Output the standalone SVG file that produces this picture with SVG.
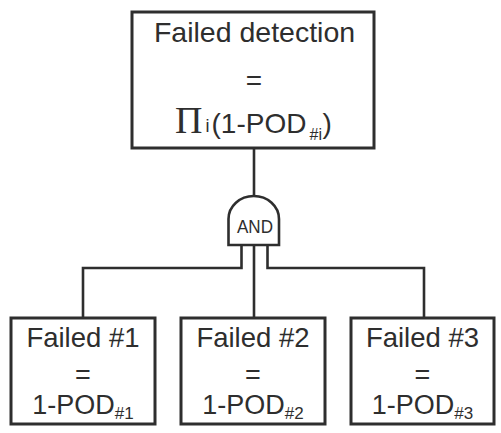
<svg xmlns="http://www.w3.org/2000/svg" width="501" height="433" viewBox="0 0 501 433">
<style>
.box{fill:#fff;stroke:#2e2e2e;stroke-width:3}
.ln{fill:none;stroke:#2e2e2e;stroke-width:2.6}
.t{font-family:"Liberation Sans",Arial,sans-serif;fill:#2e2e2e;text-anchor:middle}
.f{font-family:"Liberation Sans",Arial,sans-serif;fill:#2e2e2e}
</style>
<rect width="501" height="433" fill="#fff"/>
<g id="connectors">
<path class="ln" d="M254,148 V197"/>
<path class="ln" d="M241.5,245 V268 H83 V318"/>
<path class="ln" d="M254,245 V318"/>
<path class="ln" d="M267.5,245 V268 H424 V318"/>
</g>
<g id="top">
<rect class="box" x="132" y="12" width="242" height="136"/>
<text class="t" x="254.5" y="41.5" font-size="28.5">Failed detection</text>
<text class="t" x="254" y="90" font-size="28">=</text>
<text class="f" y="133" font-size="28"><tspan x="175" font-family="'Liberation Serif',serif" font-size="38">Π</tspan><tspan x="205.5" y="132" font-size="18">i</tspan><tspan x="211.5" y="133">(1-POD</tspan><tspan x="309.5" y="140" font-size="16">#i</tspan><tspan x="322.5" y="133">)</tspan></text>
</g>
<g id="and">
<path d="M228.5,245 V219 A25.25,23 0 0 1 279,219 V245 Z" fill="#fff" stroke="#2e2e2e" stroke-width="2.6"/>
<text class="t" x="255" y="232.5" font-size="18" textLength="36" lengthAdjust="spacingAndGlyphs">AND</text>
</g>
<g id="n1">
<rect class="box" x="11" y="318" width="144" height="106"/>
<text class="t" x="83" y="347.3" font-size="27.5">Failed #1</text>
<text class="t" x="83" y="384" font-size="27">=</text>
<text class="t" x="83" y="414" font-size="27">1-POD<tspan font-size="17" dy="5">#1</tspan></text>
</g>
<g id="n2">
<rect class="box" x="181" y="318" width="144" height="106"/>
<text class="t" x="253" y="347.3" font-size="27.5">Failed #2</text>
<text class="t" x="253" y="384" font-size="27">=</text>
<text class="t" x="253" y="414" font-size="27">1-POD<tspan font-size="17" dy="5">#2</tspan></text>
</g>
<g id="n3">
<rect class="box" x="351" y="318" width="143" height="106"/>
<text class="t" x="422.5" y="347.3" font-size="27.5">Failed #3</text>
<text class="t" x="422.5" y="384" font-size="27">=</text>
<text class="t" x="422.5" y="414" font-size="27">1-POD<tspan font-size="17" dy="5">#3</tspan></text>
</g>
</svg>
